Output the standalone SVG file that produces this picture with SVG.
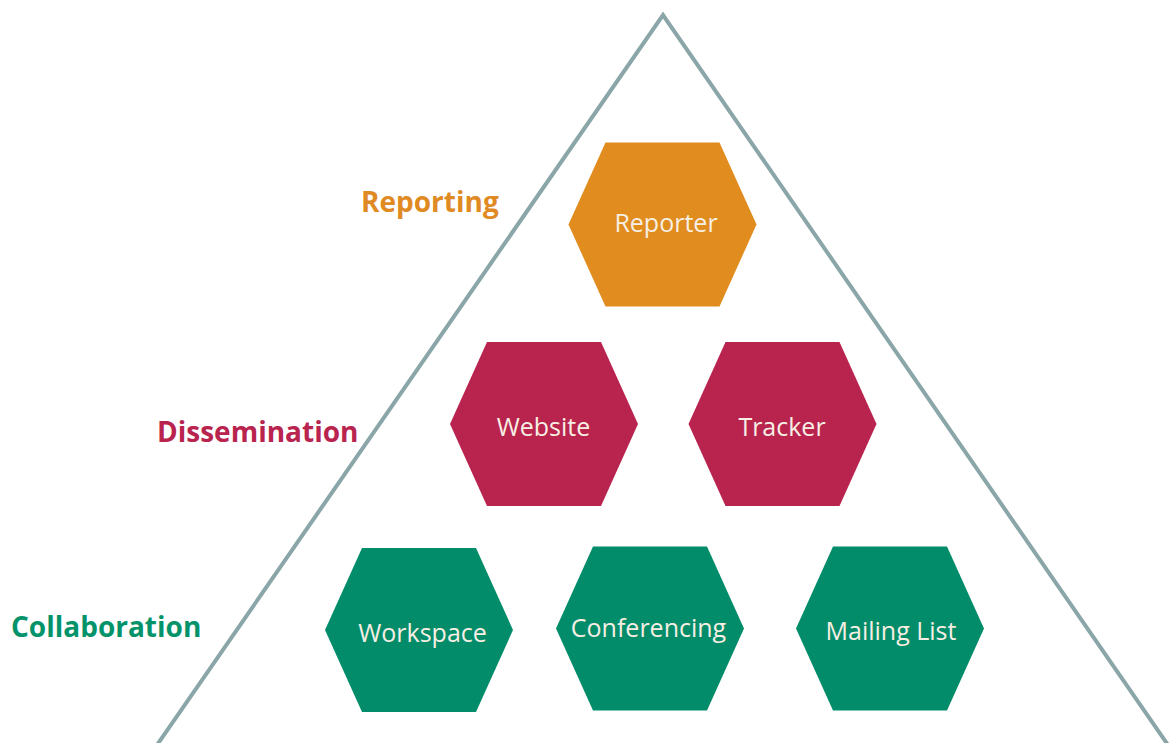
<svg xmlns="http://www.w3.org/2000/svg" width="1171" height="743" viewBox="0 0 1171 743">
<style>
.tri{fill:none;stroke:#8ba6a8;stroke-width:4;stroke-linejoin:miter}
.hx{stroke:none}
.or{fill:#e08c1e}
.cr{fill:#b9244f}
.gr{fill:#038c69}
.ht{font-family:"Open Sans","Noto Sans",sans-serif;font-size:25px;fill:#f7efe4;text-anchor:middle}
.lbl{font-family:"Open Sans","Noto Sans",sans-serif;font-size:28px;font-weight:bold}
</style>
<defs>
<polygon id="hex" points="-94,0 -57,-82 57,-82 94,0 57,82 -57,82"/>
</defs>
<rect width="1171" height="743" fill="#ffffff"/>
<g id="pyramid">
<polyline class="tri" points="157,745 663,15 1168,745"/>
</g>
<g id="labels">
<text id="label-reporting" class="lbl" x="361" y="212" fill="#e08a24">Reporting</text>
<text id="label-dissemination" class="lbl" x="157" y="442" fill="#b9244f">Dissemination</text>
<text id="label-collaboration" class="lbl" x="11" y="637" fill="#03936a">Collaboration</text>
</g>
<g id="connectors"></g>
<g id="node-reporter"><use href="#hex" class="hx or" transform="translate(662.5,224.5)"/><text class="ht" x="666" y="232">Reporter</text></g>
<g id="node-website"><use href="#hex" class="hx cr" transform="translate(544,424)"/><text class="ht" x="543.5" y="436">Website</text></g>
<g id="node-tracker"><use href="#hex" class="hx cr" transform="translate(782.5,424)"/><text class="ht" x="782" y="436">Tracker</text></g>
<g id="node-workspace"><use href="#hex" class="hx gr" transform="translate(419,630)"/><text class="ht" x="422.5" y="642">Workspace</text></g>
<g id="node-conferencing"><use href="#hex" class="hx gr" transform="translate(650,628.5)"/><text class="ht" x="648.5" y="637">Conferencing</text></g>
<g id="node-mailing-list"><use href="#hex" class="hx gr" transform="translate(890,628.5)"/><text class="ht" x="891" y="640">Mailing List</text></g>
</svg>
